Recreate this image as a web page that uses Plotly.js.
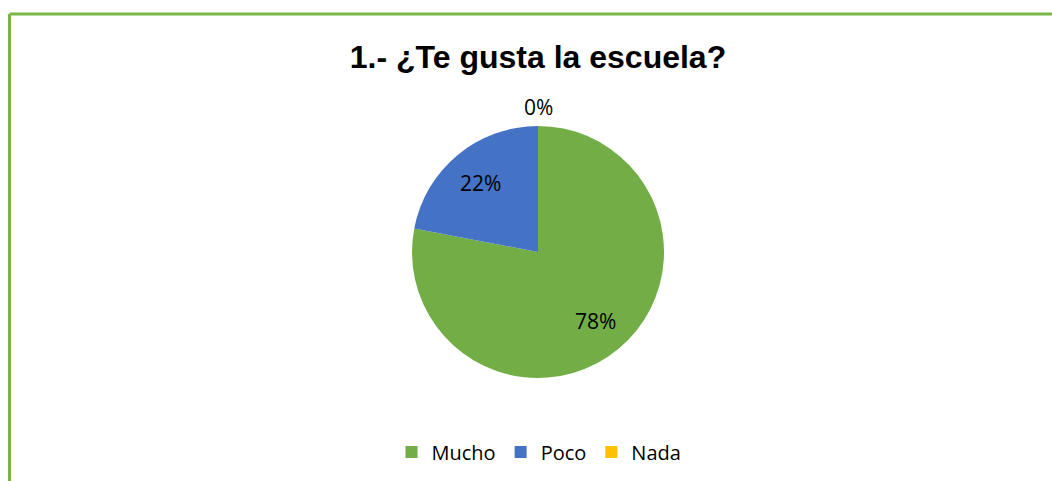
<!DOCTYPE html>
<html>
<head>
<meta charset="utf-8">
<script src="https://cdn.plot.ly/plotly-3.0.1.min.js"></script>
<style>
html,body{margin:0;padding:0;background:#fff;}
#chart{width:1052px;height:481px;}
</style>
</head>
<body>
<div id="chart"></div>
<script>
const categories = ["Mucho", "Poco", "Nada"];
const values = [78, 22, 0];
const colors = ["#72AE45", "#4472C4", "#FFC000"];
const titleText = "1.- ¿Te gusta la escuela?";

const W = 1052, H = 481;
const cx = 538, cy = 252, r = 126;
const labelFont = {family: "'Open Sans', sans-serif", size: 21, color: "#000"};

const trace = {
  type: "pie",
  labels: categories,
  values: values,
  sort: false,
  direction: "clockwise",
  rotation: 0,
  marker: {colors: colors, line: {width: 0}},
  textinfo: "none",
  hoverinfo: "none",
  domain: {x: [(cx - r) / W, (cx + r) / W], y: [(H - cy - r) / H, (H - cy + r) / H]},
  automargin: false
};

// data labels placed from the slice angles derived from the values
const total = values.reduce((a, b) => a + b, 0);
const annotations = [];
let cum = 0;
values.forEach((v, i) => {
  const frac = v / total;
  const mid = (cum + frac / 2) * 2 * Math.PI; // clockwise from 12 o'clock
  cum += frac;
  const dist = frac > 0 ? r * 0.715 : r + 19;
  const px = cx + dist * Math.sin(mid);
  const py = cy - dist * Math.cos(mid);
  annotations.push({
    xref: "paper", yref: "paper",
    x: px / W, y: 1 - py / H,
    xanchor: "center", yanchor: "middle",
    text: Math.round(frac * 100) + "%",
    showarrow: false,
    font: labelFont
  });
});

const layout = {
  width: W, height: H,
  margin: {l: 0, r: 0, t: 0, b: 0},
  paper_bgcolor: "#fff",
  title: {
    text: "<b>" + titleText + "</b>",
    font: {family: "'Liberation Sans', Arial, sans-serif", size: 32, color: "#000"},
    x: 538 / W, xanchor: "center",
    y: 1 - 57 / H, yanchor: "middle"
  },
  showlegend: true,
  legend: {
    orientation: "h",
    x: 539 / W, xanchor: "center",
    y: 1 - 452 / H, yanchor: "middle",
    font: {family: "'Open Sans', sans-serif", size: 20, color: "#000"},
    itemwidth: 30,
    traceorder: "normal"
  },
  annotations: annotations,
  shapes: [
    {type: "line", xref: "paper", yref: "paper", x0: 9.5 / W, x1: 1.05, y0: 1 - 14 / H, y1: 1 - 14 / H, line: {color: "#7AB648", width: 3}},
    {type: "line", xref: "paper", yref: "paper", x0: 9.5 / W, x1: 9.5 / W, y0: 1 - 14 / H, y1: -0.05, line: {color: "#7AB648", width: 3}}
  ]
};

Plotly.newPlot("chart", [trace], layout, {displayModeBar: false, staticPlot: true});
</script>
</body>
</html>
